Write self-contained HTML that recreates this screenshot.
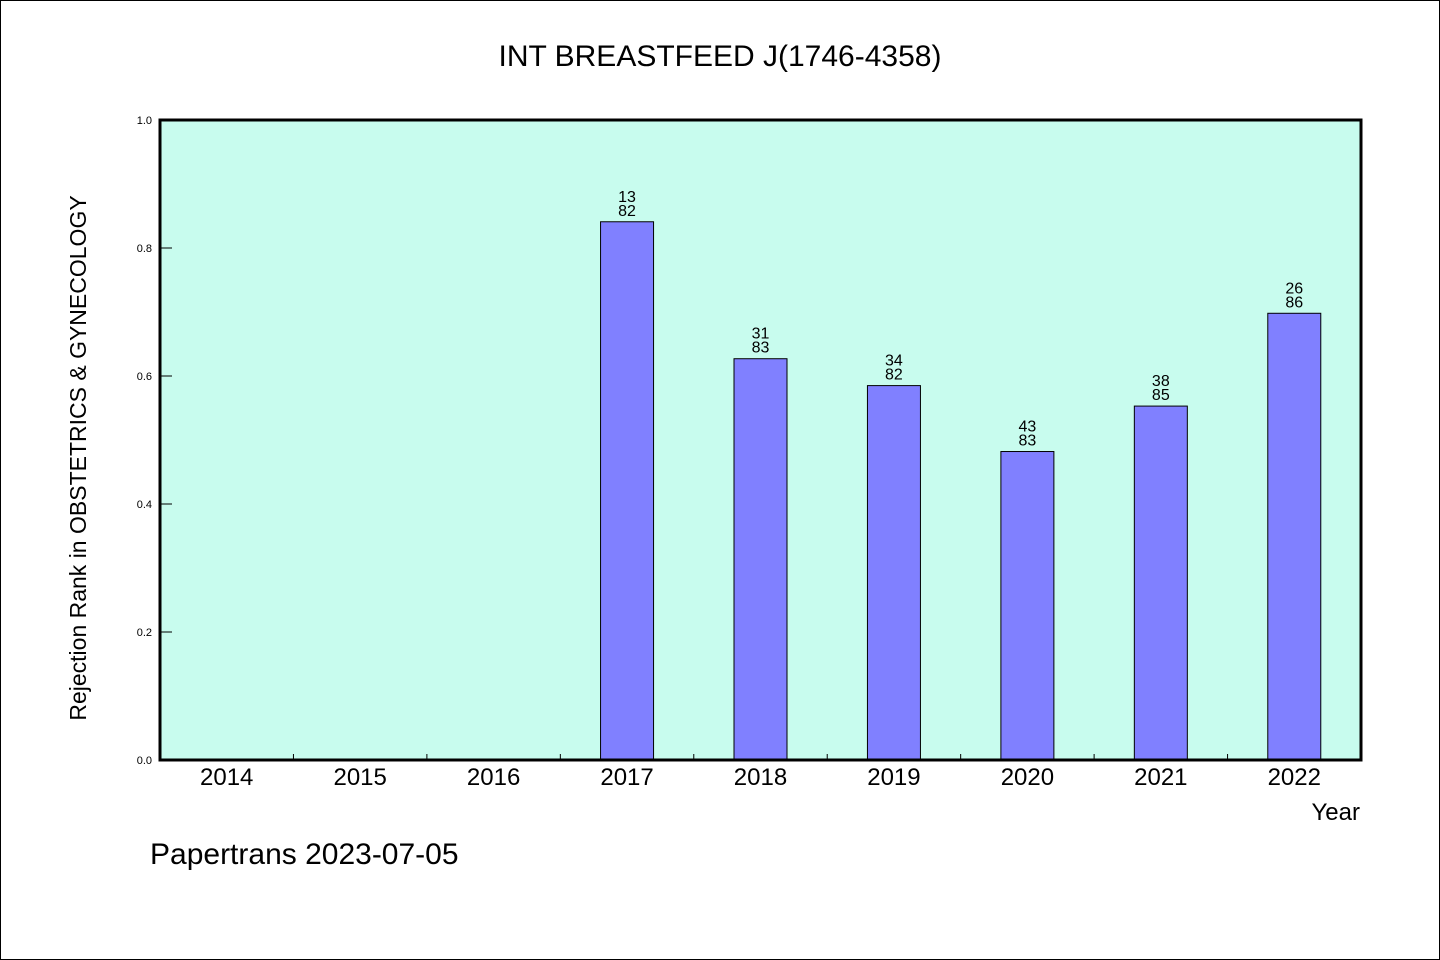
<!DOCTYPE html>
<html><head><meta charset="utf-8">
<style>
html,body{margin:0;padding:0;background:#fff;}
svg{display:block;}
text{font-family:"WenQuanYi Zen Hei","Liberation Sans",sans-serif;fill:#000;}
</style></head>
<body>
<svg id="chart" width="1440" height="960" xmlns="http://www.w3.org/2000/svg">
<rect x="0.5" y="0.5" width="1439" height="959" fill="#fff" stroke="#000"/>
<text x="720" y="66" font-size="30" text-anchor="middle">INT BREASTFEED J(1746-4358)</text>
<rect x="160" y="120" width="1201" height="640" fill="#c8fcee"/>
<g id="bars"></g>
<g id="ticks"></g>
<rect x="160" y="120" width="1201" height="640" fill="none" stroke="#000" stroke-width="3"/>
<text transform="translate(86,458) rotate(-90)" font-size="23" text-anchor="middle">Rejection Rank in OBSTETRICS &amp; GYNECOLOGY</text>
<text x="1360" y="820" font-size="24" text-anchor="end">Year</text>
<text x="150" y="864" font-size="30">Papertrans 2023-07-05</text>
</svg>
<script>
const categories=["2014","2015","2016","2017","2018","2019","2020","2021","2022"];
const values=[null,null,null,0.841,0.627,0.585,0.482,0.553,0.698];
const ranks=[null,null,null,"13","31","34","43","38","26"];
const totals=[null,null,null,"82","83","82","83","85","86"];
const yTicks=[0,0.2,0.4,0.6,0.8,1.0];
const yTickLabels=["0.0","0.2","0.4","0.6","0.8","1.0"];

const X0=160,X1=1361,Y0=760,Y1=120;
const band=(X1-X0)/categories.length;
const xC=i=>X0+band*(i+0.5);
const y=v=>Y0-(v-0)/(1-0)*(Y0-Y1);
const NS="http://www.w3.org/2000/svg";
const bars=document.getElementById('bars'),ticks=document.getElementById('ticks');
function mk(tag,attrs,parent){const e=document.createElementNS(NS,tag);for(const k in attrs)e.setAttribute(k,attrs[k]);parent.appendChild(e);return e;}

yTicks.forEach((t,i)=>{
  const l=mk('line',{x1:X0,x2:X0+12,y1:y(t),y2:y(t),stroke:'#000','stroke-width':1},ticks);
  
  
  const tx=mk('text',{x:X0-8,y:y(t)+4,'font-size':11,'text-anchor':'end'},ticks);
  tx.textContent=yTickLabels[i];
  
  
});
categories.forEach((c,i)=>{
  if(i>0){
    const l=mk('line',{x1:X0+band*i,x2:X0+band*i,y1:Y0,y2:Y0-6,stroke:'#000','stroke-width':1},ticks);
    
    
  }
  const tx=mk('text',{x:xC(i),y:785,'font-size':24,'text-anchor':'middle'},ticks);
  tx.textContent=c;
  
  
  const v=values[i];
  if(v!=null){
    const r=mk('rect',{x:xC(i)-26.5,y:y(v),width:53,height:Y0-y(v),fill:'#8080ff',stroke:'#000','stroke-width':1},bars);
    
    
    const t1=mk('text',{x:xC(i),y:y(v)-20,'font-size':16,'text-anchor':'middle'},bars);
    t1.textContent=ranks[i];
    
    
    const t2=mk('text',{x:xC(i),y:y(v)-6,'font-size':16,'text-anchor':'middle'},bars);
    t2.textContent=totals[i];
    
    
  }
});
</script>
</body></html>
